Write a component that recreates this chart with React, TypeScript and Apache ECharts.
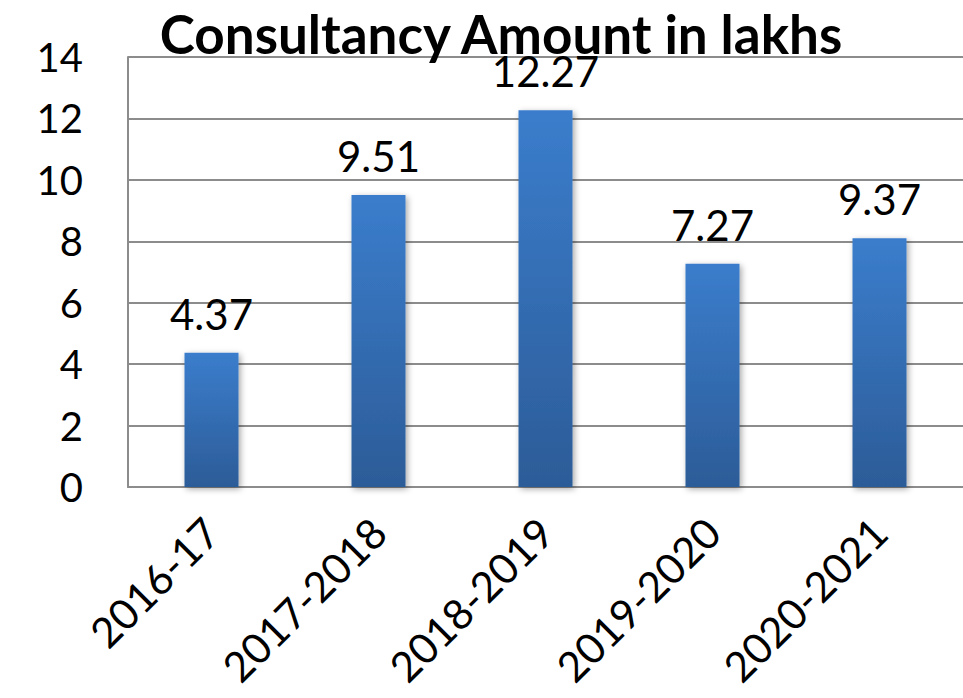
import React, { useEffect, useRef } from "react";
import * as echarts from "echarts";

const categories = ["2016-17", "2017-2018", "2018-2019", "2019-2020", "2020-2021"];
const barValues = [4.37, 9.51, 12.27, 7.27, 8.1];
const labelTexts = ["4.37", "9.51", "12.27", "7.27", "9.37"];
const yTicks = { min: 0, max: 14, interval: 2 };
const titleText = "Consultancy Amount in lakhs";

export default function App() {
  const ref = useRef<HTMLDivElement>(null);
  useEffect(() => {
    if (!ref.current) return;
    const chart = echarts.init(ref.current, null, { renderer: "svg" });
    const font = "Lato, 'Open Sans', sans-serif";
    chart.setOption({
      animation: false,
      title: {
        text: titleText,
        left: 501,
        textAlign: "center",
        top: 0,
        padding: 0,
        textStyle: { fontFamily: font, fontSize: 53, lineHeight: 66, fontWeight: "bold", color: "#000" },
      },
      grid: { left: 128, right: 0, top: 57, bottom: 211 },
      xAxis: {
        type: "category",
        data: categories,
        axisLine: { lineStyle: { color: "#8c8c8c", width: 2 } },
        axisTick: { show: false },
        axisLabel: {
          rotate: 45,
          margin: 38,
          fontFamily: font,
          fontSize: 42,
          color: "#000",
          interval: 0,
        },
      },
      yAxis: {
        type: "value",
        min: yTicks.min,
        max: yTicks.max,
        interval: yTicks.interval,
        axisLine: { show: true, lineStyle: { color: "#8c8c8c", width: 2 } },
        axisTick: { show: false },
        splitLine: { lineStyle: { color: "#8c8c8c", width: 2 } },
        axisLabel: { margin: 45, fontFamily: font, fontSize: 40, color: "#000" },
      },
      series: [
        {
          type: "bar",
          data: barValues,
          barWidth: 54,
          itemStyle: {
            color: new echarts.graphic.LinearGradient(0, 0, 0, 1, [
              { offset: 0, color: "#3b7dcc" },
              { offset: 1, color: "#2c5c98" },
            ]),
            shadowColor: "rgba(0,0,0,0.35)",
            shadowBlur: 6,
            shadowOffsetX: 2,
            shadowOffsetY: 2,
          },
          label: {
            show: true,
            position: "top",
            distance: 18,
            fontFamily: font,
            fontSize: 42,
            color: "#000",
            formatter: (p: any) => labelTexts[p.dataIndex],
          },
        },
      ],
    });
    return () => chart.dispose();
  }, []);
  return (
    <div
      ref={ref}
      style={{ position: "fixed", left: 0, top: 0, width: 963, height: 698, background: "#fff" }}
    />
  );
}
